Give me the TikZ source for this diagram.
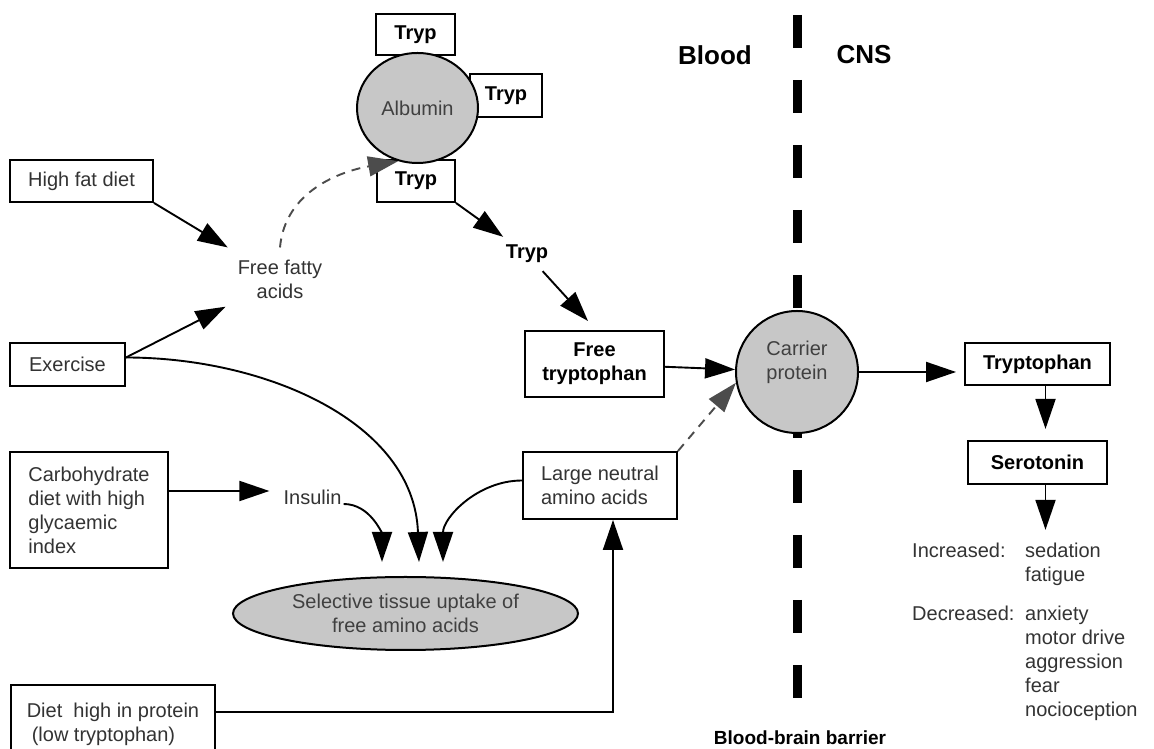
\documentclass[tikz,border=0pt]{standalone}
\usepackage{fontspec}
\setmainfont{Liberation Sans}
\usetikzlibrary{positioning,calc,arrows.meta,shapes.geometric}

\begin{document}
\begin{tikzpicture}[x=1pt, y=1pt, font=\fontsize{20}{24}\selectfont,
    box/.style={draw, line width=1.9pt, inner sep=0pt, align=center, text=black!80},
    bbox/.style={box, font=\fontsize{20}{24}\selectfont\bfseries, text=black},
    blob/.style={draw, line width=2pt, fill=black!22, inner sep=0pt, align=center, text=black!75},
    lbl/.style={inner sep=0pt, align=left, text=black!80},
    arr/.style={line width=1.9pt, -{Triangle[length=30pt, width=20pt]}},
    dasharr/.style={arr, dash pattern=on 9pt off 7pt, draw=black!70}]
  \path[use as bounding box, fill=white] (0,0) rectangle (1154,749);

  % blood-brain barrier
  \draw[line width=9pt, dash pattern=on 33pt off 32pt] (797,734) -- (797,51);

  % albumin with bound tryptophan
  \node[bbox, minimum width=79pt, minimum height=41pt] (trypTop) at (415.5,714.5) {Tryp};
  \node[bbox, minimum width=72pt, minimum height=43pt] (trypRight) at (506,653.5) {Tryp};
  \node[bbox, minimum width=78pt, minimum height=42pt] (trypBot) at (416,568) {Tryp};
  \node[blob, ellipse, minimum width=121pt, minimum height=110pt] (albumin) at (417.5,641) {Albumin};

  % blood side
  \node[box, minimum width=143pt, minimum height=42pt] (highfat) at (81.5,568) {High fat diet};
  \node[lbl, align=center, inner sep=12pt] (ffa) at (280,470) {Free fatty\\acids};
  \node[box, minimum width=115pt, minimum height=43pt] (exercise) at (67.5,384.5) {Exercise};
  \node[lbl, font=\fontsize{20}{24}\selectfont\bfseries, text=black, inner sep=8pt] (tryp) at (527,495) {Tryp};
  \coordinate (tipA) at (588,428);
  \node[bbox, minimum width=139pt, minimum height=66pt] (freeTryp) at (594.5,385) {Free\\tryptophan};
  \node[blob, circle, minimum size=122pt] (carrier) at (797,377) {Carrier\\protein\\\mbox{}};
  \node[box, minimum width=154pt, minimum height=67pt, align=left] (lnaa) at (600,263.5) {Large neutral\\amino acids};
  \node[box, minimum width=158pt, minimum height=116pt, align=left] (carb) at (89,239)
    {Carbohydrate\\diet with high\\glycaemic\\index};
  \node[lbl, inner sep=14pt] (insulin) at (312.5,252) {Insulin};
  \node[blob, ellipse, minimum width=345pt, minimum height=73pt] (uptake) at (405.5,135.5)
    {Selective tissue uptake of\\free amino acids};
  \node[box, anchor=north west, minimum width=204pt, minimum height=78pt, align=left] (protein) at (10,65)
    {Diet\ \ high in protein\\\hspace*{5pt}(low tryptophan)};

  % CNS side
  \node[bbox, minimum width=145pt, minimum height=42pt] (tryptophan) at (1037.5,385) {Tryptophan};
  \node[bbox, minimum width=139pt, minimum height=43pt, below=54pt of tryptophan] (serotonin) {Serotonin};
  \coordinate (tipS) at ([xshift=8pt, yshift=-45pt]serotonin.south);
  \node[lbl, anchor=north west] (incLbl) at (912,206) {Increased:};
  \node[lbl, anchor=north west] (incList) at (1025,206) {sedation\\fatigue};
  \node[lbl, anchor=north west] (decLbl) at (912,143) {Decreased:};
  \node[lbl, anchor=north west] (decList) at (1025,143) {anxiety\\motor drive\\aggression\\fear\\nocioception};

  % headings
  \node[font=\fontsize{26}{30}\selectfont\bfseries] (blood) at (715,694) {Blood};
  \node[font=\fontsize{26}{30}\selectfont\bfseries] (cns) at (864,694) {CNS};
  \node[font=\fontsize{19}{22}\selectfont\bfseries] (bbb) at (800,11) {Blood-brain barrier};

  % connectors
  \foreach \a/\b in {highfat.south east/ffa, trypBot.south east/tryp, tryp/tipA, freeTryp/carrier}
    \draw[arr] (\a) -- (\b);
  \draw[arr] ([yshift=7pt]exercise.east) -- (ffa);
  \draw[arr] ([yshift=7pt]exercise.east) to[out=0, in=92] ([xshift=13.5pt, yshift=14pt]uptake.north);
  \draw[arr] ([yshift=19pt]carb.east) -- ([yshift=6pt]insulin.west);
  \draw[arr] ([xshift=-12pt, yshift=-7pt]insulin.east) to[out=0, in=90] ([xshift=-23.5pt, yshift=14pt]uptake.north);
  \draw[arr] ([yshift=5pt]lnaa.west) to[out=180, in=90] ([xshift=37.5pt, yshift=14pt]uptake.north);
  \draw[arr] ([yshift=12pt]protein.east) -| ([xshift=13pt]lnaa.south);
  \draw[dasharr] (lnaa.north east) -- (carrier.190);
  \draw[dasharr] (ffa.north) to[out=85, in=190] (albumin.250);
  \draw[arr, shorten >=8pt] (carrier.east) -- (carrier.east -| tryptophan.west);
  \draw[arr, shorten >=11pt] ([xshift=8pt]tryptophan.south) -- ([xshift=8pt]serotonin.north);
  \draw[arr] ([xshift=8pt]serotonin.south) -- (tipS);
\end{tikzpicture}
\end{document}
